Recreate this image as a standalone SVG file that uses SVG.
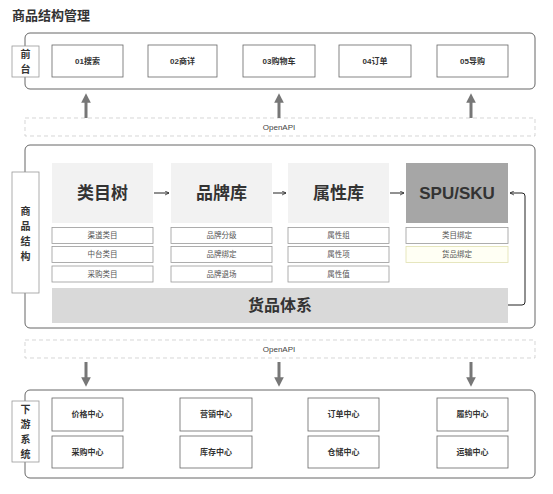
<svg xmlns="http://www.w3.org/2000/svg" width="553" height="494" viewBox="0 0 553 494">
<defs>
<style>
text{font-family:"Liberation Sans","Noto Sans CJK SC",sans-serif;text-anchor:middle;dominant-baseline:central}
.cont{fill:#fff;stroke:#666;stroke-width:1}
.side{fill:#fff;stroke:#999;stroke-width:0.8}
.sidet{font-size:10px;font-weight:bold;fill:#333}
.node{fill:#fff;stroke:#666;stroke-width:0.8}
.nodet{font-size:8px;font-weight:bold;fill:#333}
.dash{fill:#fff;stroke:#c4c4c4;stroke-width:0.7;stroke-dasharray:4 3}
.apit{font-size:8px;fill:#444}
.big{fill:#f2f2f2}
.bigt{font-size:17px;font-weight:bold;fill:#333}
.sm{fill:#fff;stroke:#999;stroke-width:0.8}
.smt{font-size:7.5px;fill:#555}
.fat{stroke:#777;stroke-width:3;fill:none}
.thin{stroke:#222;stroke-width:1;fill:none}
</style>
<marker id="fh" viewBox="0 0 10 10" refX="5" refY="5" markerWidth="4" markerHeight="3.2" orient="auto" markerUnits="strokeWidth"><path d="M0,0 L10,5 L0,10 Z" fill="#777"/></marker>
<marker id="th" viewBox="0 0 10 10" refX="9" refY="5" markerWidth="5" markerHeight="5" orient="auto" markerUnits="strokeWidth"><path d="M1,1 L9,5 L1,9" fill="none" stroke="#222" stroke-width="1.5"/></marker>
</defs>
<rect width="553" height="494" fill="#fff"/>
<text x="12" y="15" style="text-anchor:start;font-size:13px;font-weight:bold;fill:#333">商品结构管理</text>

<g id="frontend">
<rect class="cont" x="25" y="33" width="510" height="56" rx="5"/>
<rect class="side" x="12" y="46" width="27" height="31"/>
<text class="sidet" x="25.5" y="54.5">前</text>
<text class="sidet" x="25.5" y="69">台</text>
</g>
<g id="n01"><rect class="node" x="52" y="45" width="71" height="32"/><text class="nodet" x="87.5" y="61">01搜索</text></g>
<g id="n02"><rect class="node" x="148" y="45" width="69" height="32"/><text class="nodet" x="182.5" y="61">02商详</text></g>
<g id="n03"><rect class="node" x="243" y="45" width="72" height="32"/><text class="nodet" x="279" y="61">03购物车</text></g>
<g id="n04"><rect class="node" x="339" y="45" width="72" height="32"/><text class="nodet" x="375" y="61">04订单</text></g>
<g id="n05"><rect class="node" x="437" y="45" width="71" height="32"/><text class="nodet" x="472.5" y="61">05导购</text></g>

<g id="api1"><rect class="dash" x="25" y="118" width="510" height="18"/><text class="apit" x="279" y="127.5">OpenAPI</text></g>

<g id="core">
<rect class="cont" x="25" y="145" width="510" height="183" rx="5"/>
<rect class="side" x="12" y="172" width="27" height="121"/>
<text class="sidet" x="25.5" y="211">商</text>
<text class="sidet" x="25.5" y="226">品</text>
<text class="sidet" x="25.5" y="241">结</text>
<text class="sidet" x="25.5" y="256">构</text>
</g>
<g id="category">
<rect class="big" x="52" y="163" width="101" height="60"/><text class="bigt" x="102.5" y="193">类目树</text>
<rect class="sm" x="52" y="227.5" width="101" height="16"/><text class="smt" x="102.5" y="235.5">渠道类目</text>
<rect class="sm" x="52" y="246.5" width="101" height="16"/><text class="smt" x="102.5" y="254.5">中台类目</text>
<rect class="sm" x="52" y="266" width="101" height="16"/><text class="smt" x="102.5" y="274">采购类目</text>
</g>
<g id="brand">
<rect class="big" x="171" y="163" width="101" height="60"/><text class="bigt" x="221.5" y="193">品牌库</text>
<rect class="sm" x="171" y="227.5" width="101" height="16"/><text class="smt" x="221.5" y="235.5">品牌分级</text>
<rect class="sm" x="171" y="246.5" width="101" height="16"/><text class="smt" x="221.5" y="254.5">品牌绑定</text>
<rect class="sm" x="171" y="266" width="101" height="16"/><text class="smt" x="221.5" y="274">品牌退场</text>
</g>
<g id="attr">
<rect class="big" x="288" y="163" width="101" height="60"/><text class="bigt" x="338.5" y="193">属性库</text>
<rect class="sm" x="288" y="227.5" width="101" height="16"/><text class="smt" x="338.5" y="235.5">属性组</text>
<rect class="sm" x="288" y="246.5" width="101" height="16"/><text class="smt" x="338.5" y="254.5">属性项</text>
<rect class="sm" x="288" y="266" width="101" height="16"/><text class="smt" x="338.5" y="274">属性值</text>
</g>
<g id="spu">
<rect x="406" y="163" width="102" height="60" fill="#a6a6a6"/><text class="bigt" x="457" y="193">SPU/SKU</text>
<rect class="sm" x="406" y="227.5" width="102" height="16"/><text class="smt" x="457" y="235.5">类目绑定</text>
<rect x="406" y="246.5" width="102" height="16" fill="#fffff4" stroke="#e0e0b0" stroke-width="0.8"/><text class="smt" x="457" y="254.5">货品绑定</text>
</g>
<g id="goods">
<rect x="52" y="288" width="456" height="35" fill="#d9d9d9"/><text class="bigt" x="280" y="305.5" style="font-size:16px">货品体系</text>
</g>

<g id="api2"><rect class="dash" x="25" y="340" width="510" height="18"/><text class="apit" x="279" y="349.5">OpenAPI</text></g>

<g id="downstream">
<rect class="cont" x="25" y="390" width="510" height="88" rx="5"/>
<rect class="side" x="12" y="401" width="27" height="61"/>
<text class="sidet" x="25.5" y="409">下</text>
<text class="sidet" x="25.5" y="424">游</text>
<text class="sidet" x="25.5" y="439">系</text>
<text class="sidet" x="25.5" y="454">统</text>
</g>
<g id="d1"><rect class="node" x="52" y="398" width="71" height="33"/><text class="nodet" x="87.5" y="414.5">价格中心</text></g>
<g id="d2"><rect class="node" x="52" y="436" width="71" height="32"/><text class="nodet" x="87.5" y="452">采购中心</text></g>
<g id="d3"><rect class="node" x="180" y="398" width="72" height="33"/><text class="nodet" x="216" y="414.5">营销中心</text></g>
<g id="d4"><rect class="node" x="180" y="436" width="72" height="32"/><text class="nodet" x="216" y="452">库存中心</text></g>
<g id="d5"><rect class="node" x="308" y="398" width="71" height="33"/><text class="nodet" x="343.5" y="414.5">订单中心</text></g>
<g id="d6"><rect class="node" x="308" y="436" width="71" height="32"/><text class="nodet" x="343.5" y="452">仓储中心</text></g>
<g id="d7"><rect class="node" x="437" y="398" width="71" height="33"/><text class="nodet" x="472.5" y="414.5">履约中心</text></g>
<g id="d8"><rect class="node" x="437" y="436" width="71" height="32"/><text class="nodet" x="472.5" y="452">运输中心</text></g>

<g id="connectors">
<path class="fat" d="M86,118 V98" marker-end="url(#fh)"/>
<path class="fat" d="M279,118 V98" marker-end="url(#fh)"/>
<path class="fat" d="M471,118 V98" marker-end="url(#fh)"/>
<path class="fat" d="M86,362 V382" marker-end="url(#fh)"/>
<path class="fat" d="M279,362 V382" marker-end="url(#fh)"/>
<path class="fat" d="M471,362 V382" marker-end="url(#fh)"/>
<path class="thin" d="M154,193 H169" marker-end="url(#th)"/>
<path class="thin" d="M273,193 H286" marker-end="url(#th)"/>
<path class="thin" d="M390,193 H404" marker-end="url(#th)"/>
<path class="thin" d="M508,305 H522 Q525,305 525,302 V196 Q525,193 522,193 H510" marker-end="url(#th)"/>
</g>
</svg>
